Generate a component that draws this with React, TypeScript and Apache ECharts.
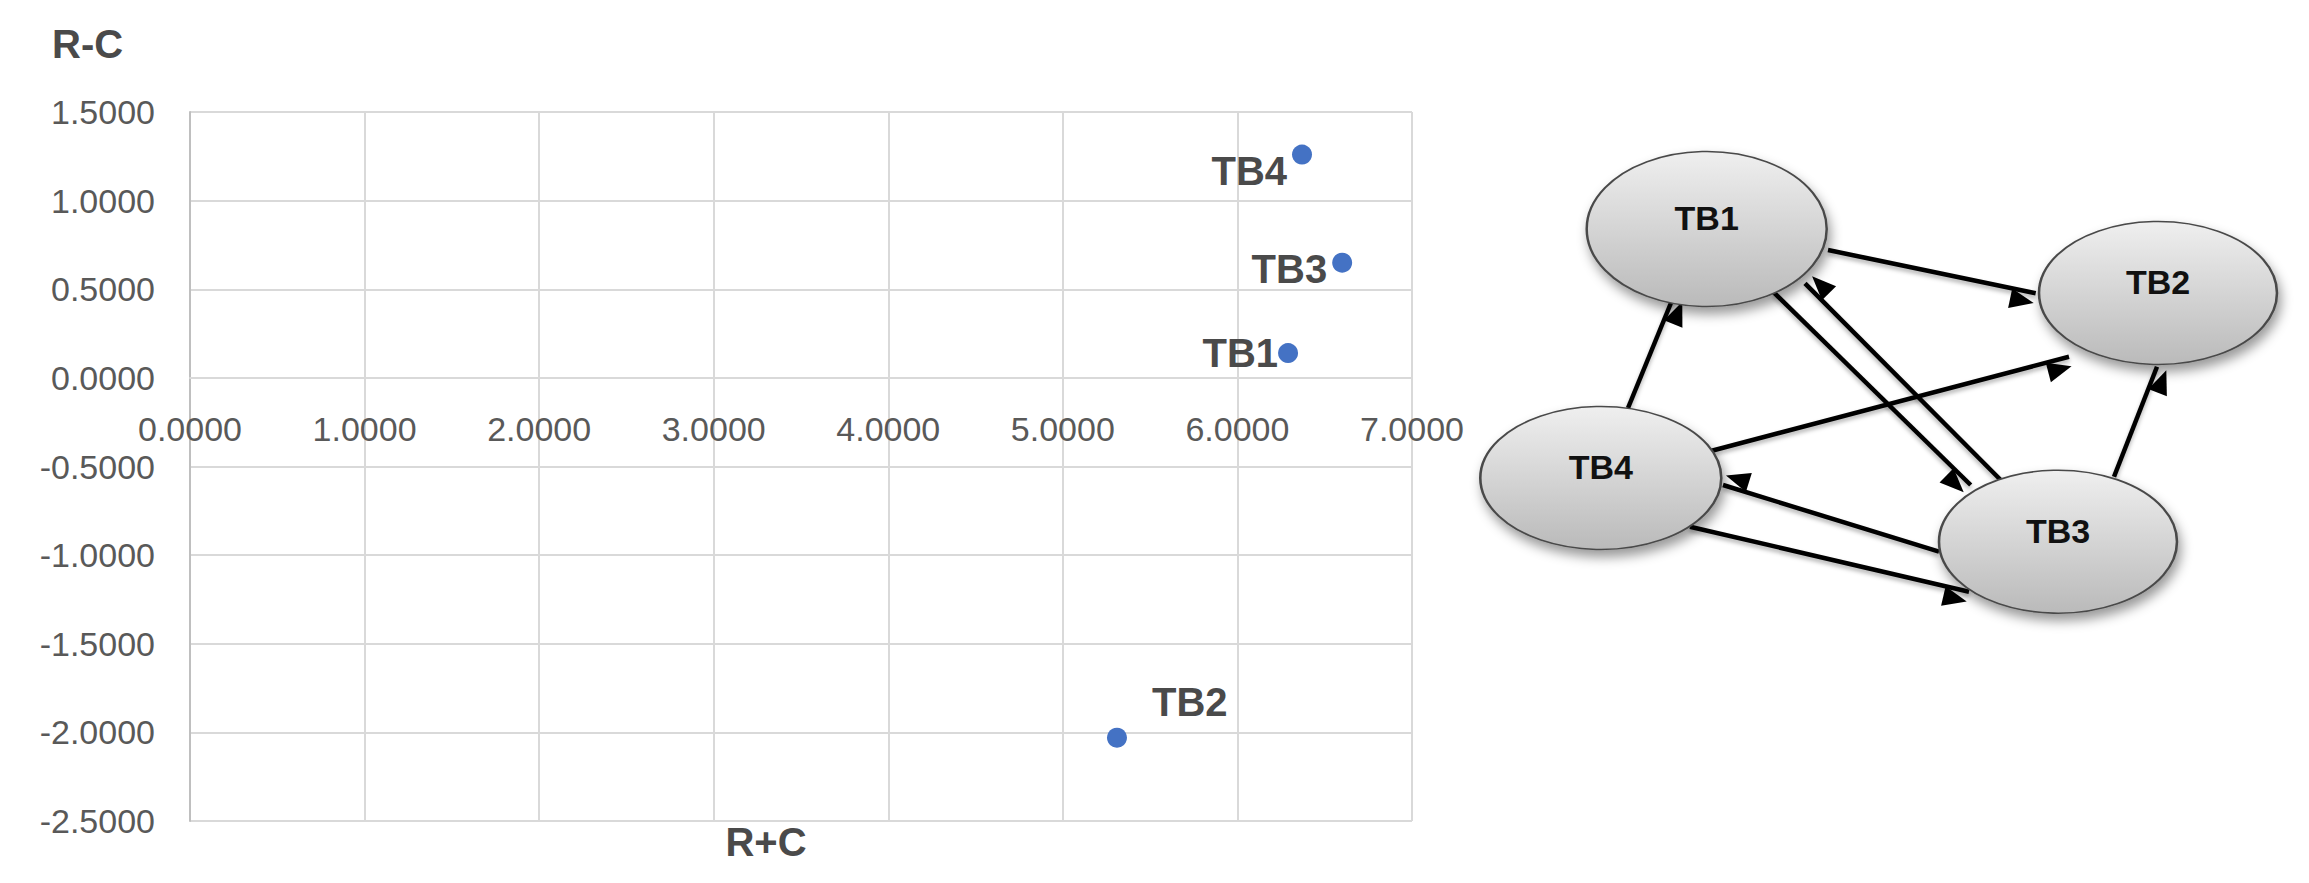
import React, { useEffect, useRef } from "react";
import * as echarts from "echarts";

// ---- Scatter data (R+C, R-C) ----
const factors = ["TB1", "TB2", "TB3", "TB4"];
const rPlusC = [6.29, 5.31, 6.6, 6.37];
const rMinusC = [0.14, -2.03, 0.65, 1.26];

// ---- Axis ticks ----
const xMin = 0;
const xMax = 7;
const xStep = 1;
const yMin = -2.5;
const yMax = 1.5;
const yStep = 0.5;

// ---- Causal diagram (local diagram units) ----
const nodeNames = ["TB1", "TB2", "TB3", "TB4"];
const nodeX = [246.7, 698, 598, 140.8];
const nodeY = [89, 153, 401.7, 338];

const edgeFrom = ["TB1", "TB4", "TB1", "TB3", "TB4", "TB3", "TB3", "TB4"];
const edgeTo = ["TB2", "TB1", "TB3", "TB1", "TB2", "TB2", "TB4", "TB3"];
const edgeStart = [
  [368, 110],
  [168, 268],
  [313, 151.7],
  [540.7, 340],
  [248, 311.7],
  [654, 336.7],
  [479, 411.7],
  [230, 386.7],
];
const edgeEnd = [
  [575.7, 153.3],
  [213, 158],
  [510.7, 345],
  [345, 143.3],
  [609, 216.7],
  [697, 226.7],
  [263, 345],
  [509, 451.7],
];

// ---- Styling (kept apart from data) ----
const FONT = "Liberation Sans";
const GRAY_TEXT = "#595959";
const DARK_TEXT = "#4a4a4a";
const labelPlacement: Record<string, any> = {
  TB1: { position: "left", distance: 0, offset: [0, 0] },
  TB2: { position: "right", distance: 25, offset: [0, -36] },
  TB3: { position: "left", distance: 5, offset: [0, 6] },
  TB4: { position: "left", distance: 5, offset: [0, 16] },
};
const nodeSize: Record<string, number[]> = {
  TB1: [240, 155],
  TB2: [238, 143],
  TB3: [238, 143],
  TB4: [241, 143],
};

export default function App() {
  const ref = useRef<HTMLDivElement>(null);

  useEffect(() => {
    if (!ref.current) return;
    const chart = echarts.init(ref.current, undefined, { renderer: "svg" });

    const scatterData = factors.map((name, i) => ({
      name,
      value: [rPlusC[i], rMinusC[i]],
      label: {
        show: true,
        formatter: "{b}",
        position: labelPlacement[name].position,
        distance: labelPlacement[name].distance,
        offset: labelPlacement[name].offset,
        color: DARK_TEXT,
        fontFamily: FONT,
        fontWeight: "bold",
        fontSize: 40,
      },
    }));

    const nodeData = nodeNames.map((name, i) => ({
      name,
      value: [nodeX[i], nodeY[i]],
      symbolSize: nodeSize[name],
    }));

    const edgeData = edgeFrom.map((f, i) => [
      { name: f + "-" + edgeTo[i], coord: edgeStart[i] },
      { coord: edgeEnd[i] },
    ]);

    const gradient = new echarts.graphic.LinearGradient(0, 0, 0, 1, [
      { offset: 0, color: "#efefef" },
      { offset: 1, color: "#bababa" },
    ]);

    const plotTop = 112;
    const plotHeight = 709;
    const zeroOffset = -plotHeight * (0 - yMin) / (yMax - yMin);

    chart.setOption({
      animation: false,
      backgroundColor: "#ffffff",
      grid: [
        { left: 190, top: plotTop, width: 1222, height: plotHeight },
        { left: 1460, top: 140, width: 840, height: 500 },
      ],
      xAxis: [
        {
          type: "value",
          gridIndex: 0,
          min: xMin,
          max: xMax,
          interval: xStep,
          position: "bottom",
          offset: zeroOffset,
          axisLine: { show: true, onZero: false, lineStyle: { color: "#d9d9d9", width: 2 } },
          axisTick: { show: false },
          splitLine: { show: true, lineStyle: { color: "#d9d9d9", width: 2 } },
          axisLabel: {
            formatter: (v: number) => v.toFixed(4),
            color: GRAY_TEXT,
            fontFamily: FONT,
            fontSize: 34,
            margin: 34,
          },
        },
        { type: "value", gridIndex: 1, min: 0, max: 840, show: false },
      ],
      yAxis: [
        {
          type: "value",
          gridIndex: 0,
          min: yMin,
          max: yMax,
          interval: yStep,
          axisLine: { show: true, onZero: false, lineStyle: { color: "#bfbfbf", width: 2 } },
          axisTick: { show: false },
          splitLine: { show: true, lineStyle: { color: "#d9d9d9", width: 2 } },
          axisLabel: {
            formatter: (v: number) => v.toFixed(4),
            color: GRAY_TEXT,
            fontFamily: FONT,
            fontSize: 34,
            margin: 35,
          },
        },
        { type: "value", gridIndex: 1, min: 0, max: 500, inverse: true, show: false },
      ],
      graphic: [
        {
          type: "text",
          x: 52,
          y: 44,
          style: {
            text: "R-C",
            fill: DARK_TEXT,
            font: `bold 40px "${FONT}"`,
            textAlign: "left",
            textVerticalAlign: "middle",
            verticalAlign: "middle",
          },
        },
        {
          type: "text",
          x: 766,
          y: 842,
          style: {
            text: "R+C",
            fill: DARK_TEXT,
            font: `bold 40px "${FONT}"`,
            textAlign: "center",
            align: "center",
            textVerticalAlign: "middle",
            verticalAlign: "middle",
          },
        },
      ],
      series: [
        {
          type: "scatter",
          xAxisIndex: 0,
          yAxisIndex: 0,
          symbol: "circle",
          symbolSize: 20,
          itemStyle: { color: "#4472C4", opacity: 1 },
          data: scatterData,
          silent: true,
        },
        {
          type: "scatter",
          xAxisIndex: 1,
          yAxisIndex: 1,
          symbol: "circle",
          z: 10,
          silent: true,
          itemStyle: {
            color: gradient,
            borderColor: "#4a4a4a",
            borderWidth: 2,
            shadowBlur: 12,
            shadowColor: "rgba(0,0,0,0.4)",
            shadowOffsetX: 3,
            shadowOffsetY: 7,
            opacity: 1,
          },
          label: {
            show: true,
            position: "inside",
            formatter: "{b}",
            color: "#111111",
            fontFamily: FONT,
            fontWeight: "bold",
            fontSize: 34,
            offset: [0, -11],
          },
          data: nodeData,
          markLine: {
            silent: true,
            z: 1,
            symbol: ["none", "triangle"],
            symbolSize: [20, 24],
            symbolOffset: [0, "50%"],
            label: { show: false },
            emphasis: { disabled: true },
            lineStyle: {
              type: "solid",
              color: "#000000",
              width: 4.5,
              opacity: 1,
              shadowBlur: 4,
              shadowColor: "rgba(0,0,0,0.3)",
              shadowOffsetY: 3,
            },
            data: edgeData,
          },
        },
      ],
    });

    return () => {
      chart.dispose();
    };
  }, []);

  return (
    <div
      ref={ref}
      style={{ position: "absolute", left: 0, top: 0, width: 2309, height: 883 }}
    />
  );
}
